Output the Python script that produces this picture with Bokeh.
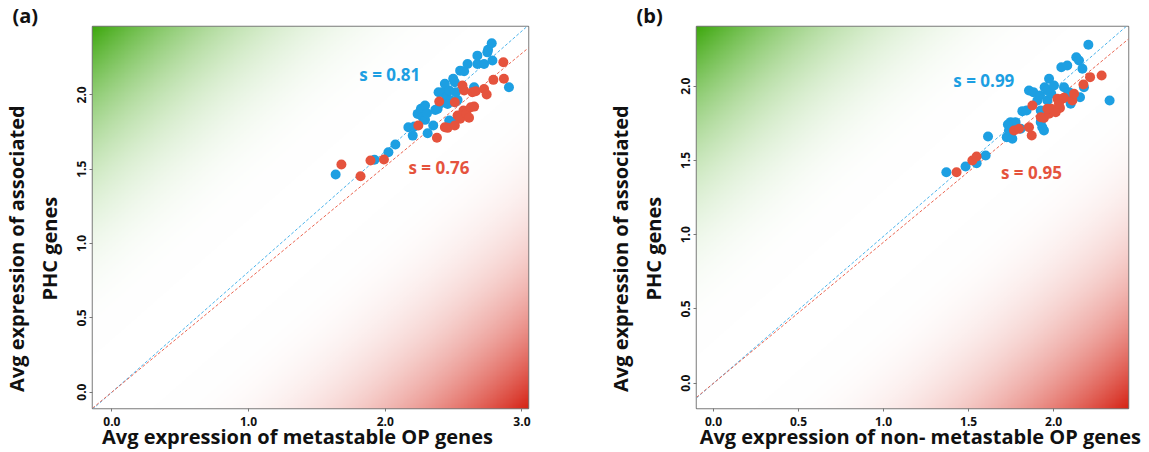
import numpy as np
from bokeh.plotting import figure
from bokeh.models import Range1d, Label, FixedTicker
from bokeh.layouts import row
from bokeh.embed import file_html
from bokeh.resources import INLINE

# ---------------- data: panel (a) metastable OP genes ----------------
a_blue_x = [1.637, 1.921, 2.023, 2.074, 2.169, 2.201, 2.213, 2.237, 2.261, 2.291,
            2.274, 2.291, 2.310, 2.351, 2.366, 2.383, 2.390, 2.419, 2.436, 2.449,
            2.468, 2.480, 2.497, 2.509, 2.516, 2.468, 2.492, 2.529, 2.509, 2.548,
            2.577, 2.602, 2.650, 2.674, 2.674, 2.723, 2.747, 2.752, 2.784, 2.779,
            2.905, 2.407, 2.456, 2.305]
a_blue_y = [1.464, 1.563, 1.614, 1.666, 1.782, 1.726, 1.787, 1.872, 1.906, 1.928,
            1.849, 1.832, 1.742, 1.794, 1.899, 1.906, 2.018, 2.018, 2.074, 1.989,
            2.029, 1.962, 2.108, 2.085, 2.018, 1.827, 1.816, 1.966, 1.950, 2.163,
            2.159, 2.208, 2.051, 2.208, 2.264, 2.208, 2.286, 2.303, 2.231, 2.347,
            2.051, 1.944, 1.939, 1.876]
a_red_x = [1.679, 1.819, 1.892, 1.990, 2.242, 2.378, 2.395, 2.436, 2.456, 2.509,
           2.509, 2.529, 2.548, 2.572, 2.565, 2.577, 2.594, 2.613, 2.626, 2.650,
           2.638, 2.662, 2.723, 2.742, 2.791, 2.864, 2.868]
a_red_y = [1.531, 1.453, 1.558, 1.565, 1.794, 1.711, 1.955, 1.782, 1.778, 1.794,
           1.950, 1.861, 1.839, 1.895, 2.063, 2.029, 1.872, 1.846, 1.917, 1.921,
           2.018, 2.024, 2.040, 2.002, 2.101, 2.219, 2.108]
a_slopes = [0.81, 0.76]
a_xticks = [0.0, 1.0, 2.0, 3.0]
a_xtick_labels = ["0.0", "1.0", "2.0", "3.0"]
a_yticks = [0.0, 0.5, 1.0, 1.5, 2.0]
a_ytick_labels = ["0.0", "0.5", "1.0", "1.5", "2.0"]

# ---------------- data: panel (b) non-metastable OP genes ----------------
b_blue_x = [1.369, 1.482, 1.547, 1.600, 1.614, 1.724, 1.737, 1.757, 1.747, 1.776,
            1.806, 1.816, 1.841, 1.855, 1.880, 1.904, 1.924, 1.933, 1.943, 1.947,
            1.973, 1.963, 1.986, 2.045, 2.080, 2.061, 2.090, 2.100, 2.133, 2.149,
            2.169, 2.178, 2.204, 2.329, 1.731, 1.920, 1.963, 2.002, 1.924, 2.155]
b_blue_y = [1.421, 1.459, 1.481, 1.533, 1.661, 1.657, 1.702, 1.646, 1.758, 1.758,
            1.713, 1.832, 1.836, 1.971, 1.960, 1.904, 1.836, 1.724, 1.702, 1.993,
            2.050, 1.904, 1.949, 2.128, 2.139, 1.993, 1.960, 1.882, 2.195, 2.173,
            2.117, 1.993, 2.279, 1.904, 1.742, 1.937, 1.971, 2.005, 1.758, 1.926]
b_red_x = [1.429, 1.522, 1.547, 1.767, 1.796, 1.855, 1.871, 1.875, 1.924, 1.943,
           1.973, 1.986, 2.002, 2.022, 2.037, 2.051, 2.061, 2.110, 2.120, 2.175,
           2.214, 2.282, 1.963, 2.012, 2.031]
b_red_y = [1.421, 1.500, 1.527, 1.702, 1.713, 1.724, 1.668, 1.870, 1.791, 1.787,
           1.814, 1.848, 1.836, 1.915, 1.854, 1.915, 1.922, 1.904, 1.949, 2.011,
           2.061, 2.072, 1.848, 1.825, 1.882]
b_slopes = [0.99, 0.95]
b_xticks = [0.0, 0.5, 1.0, 1.5, 2.0]
b_xtick_labels = ["0.0", "0.5", "1.0", "1.5", "2.0"]
b_yticks = [0.0, 0.5, 1.0, 1.5, 2.0]
b_ytick_labels = ["0.0", "0.5", "1.0", "1.5", "2.0"]

BLUE = "#1d9fe2"
RED = "#e5533d"
BLUE_LINE = "#4ab2ea"
RED_LINE = "#ea6652"
FONT = "Open Sans"
NB = "\u00a0"
PAD = NB * 12  # shifts the rotated y label slightly downward, as in the original


def gradient_image(n=300):
    u = np.linspace(0, 1, n)[None, :]
    v = np.linspace(0, 1, n)[:, None]
    t = (u + (1 - v)) / 2.0
    ag = np.clip((0.43 - t) / 0.43, 0, 1) ** 2.4
    ar = np.clip((t - 0.57) / 0.43, 0, 1) ** 2.4
    green = np.array([62, 168, 14])
    red = np.array([214, 36, 22])
    img = np.empty((n, n), dtype=np.uint32)
    view = img.view(dtype=np.uint8).reshape((n, n, 4))
    for k in range(3):
        ch = 255 * (1 - ag - ar) + green[k] * ag + red[k] * ar
        view[:, :, k] = np.clip(ch, 0, 255).astype(np.uint8)
    view[:, :, 3] = 255
    return img


def make_panel(letter, xlabel, xr, yr, bx, by, rx, ry, slopes, s_pos,
               xticks, xtl, yticks, ytl, width, borders):
    left, right, top, bottom = borders
    p = figure(width=width, height=452, x_range=Range1d(*xr), y_range=Range1d(*yr),
               output_backend="svg", toolbar_location=None,
               min_border_left=left, min_border_right=right,
               min_border_top=top, min_border_bottom=bottom,
               title=letter[0])
    p.title.align = "left"
    p.title.offset = letter[1]
    p.title.standoff = -4
    p.title.text_font = FONT
    p.title.text_font_size = "20px"
    p.title.text_font_style = "bold"
    p.title.text_color = "#111111"
    p.title.text_line_height = 1.0

    p.grid.visible = False
    p.outline_line_color = "#7a7a7a"
    p.outline_line_width = 1.5
    p.background_fill_color = "white"
    p.border_fill_color = "white"

    p.image_rgba(image=[gradient_image()], x=xr[0], y=yr[0],
                 dw=xr[1] - xr[0], dh=yr[1] - yr[0])

    xs = [xr[0], xr[1]]
    p.line(xs, [slopes[0] * x for x in xs], line_color=BLUE_LINE, line_width=1,
           line_dash="3 2")
    p.line(xs, [slopes[1] * x for x in xs], line_color=RED_LINE, line_width=1,
           line_dash="3 2")

    p.scatter(bx, by, size=10, fill_color=BLUE, line_color=None)
    p.scatter(rx, ry, size=10, fill_color=RED, line_color=None)

    for s, col, (lx, ly) in zip(slopes, [BLUE, RED], s_pos):
        p.add_layout(Label(x=lx, y=ly, text="s = %.2f" % s, text_color=col,
                           text_font=FONT, text_font_size="17px",
                           text_font_style="bold", text_baseline="middle"))

    for ax in (p.xaxis[0], p.yaxis[0]):
        ax.axis_line_color = None
        ax.major_tick_line_color = "#777777"
        ax.major_tick_out = 3
        ax.major_tick_in = 0
        ax.minor_tick_line_color = None
        ax.major_label_text_font = FONT
        ax.major_label_text_font_style = "bold"
        ax.major_label_text_font_size = "12px"
        ax.major_label_text_color = "#111111"
        ax.axis_label_text_font = FONT
        ax.axis_label_text_font_style = "bold"
        ax.axis_label_text_font_size = "20px"
        ax.axis_label_text_color = "#111111"
        ax.major_label_standoff = 3

    p.xaxis.ticker = FixedTicker(ticks=xticks)
    p.xaxis.major_label_overrides = dict(zip(xticks, xtl))
    p.xaxis.major_label_standoff = 5
    p.yaxis.ticker = FixedTicker(ticks=yticks)
    p.yaxis.major_label_overrides = dict(zip(yticks, ytl))
    p.yaxis.major_label_orientation = "vertical"
    p.xaxis.axis_label = xlabel
    p.xaxis.axis_label_standoff = -6
    p.yaxis.axis_label = "Avg expression of associated" + PAD + "\nPHC genes" + PAD
    p.yaxis.axis_label_standoff = 12
    return p


pa = make_panel(("(a)", -80), "Avg expression of metastable OP genes" + NB * 5,
                (-0.142, 3.048), (-0.11, 2.46),
                a_blue_x, a_blue_y, a_red_x, a_red_y, a_slopes,
                [(1.81, 2.14), (2.17, 1.51)],
                a_xticks, a_xtick_labels, a_yticks, a_ytick_labels,
                575, (90, 47, 26, 44))
pb = make_panel(("(b)", -60), NB * 3 + "Avg expression of non- metastable OP genes",
                (-0.10, 2.44), (-0.170, 2.402),
                b_blue_x, b_blue_y, b_red_x, b_red_y, b_slopes,
                [(1.41, 2.04), (1.69, 1.42)],
                b_xticks, b_xtick_labels, b_yticks, b_ytick_labels,
                574, (121, 21, 26, 44))

layout = row(pa, pb)
open("out.html", "w").write(file_html(layout, INLINE))
